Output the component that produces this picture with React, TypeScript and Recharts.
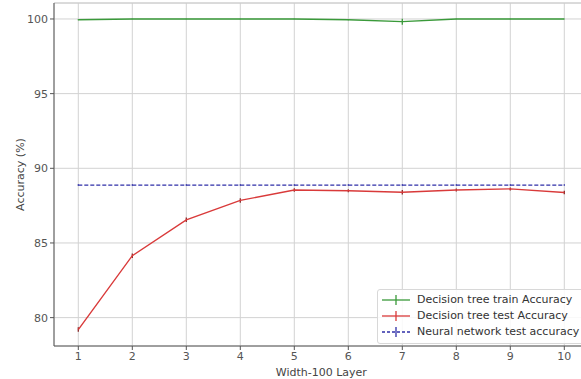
import React from 'react';
import { LineChart, Line, XAxis, YAxis, CartesianGrid, ErrorBar, ReferenceLine } from 'recharts';

const layers = [1, 2, 3, 4, 5, 6, 7, 8, 9, 10];
const trainAcc = [99.95, 100, 100, 100, 100, 99.95, 99.82, 100, 100, 100];
const trainErr = [0.03, 0.02, 0.02, 0.02, 0.02, 0.03, 0.2, 0.02, 0.02, 0.02];
const testAcc = [79.2, 84.15, 86.55, 87.85, 88.55, 88.5, 88.4, 88.55, 88.62, 88.38];
const testErr = [0.15, 0.15, 0.15, 0.15, 0.12, 0.1, 0.15, 0.1, 0.1, 0.12];
const nnAcc = [88.88, 88.88, 88.88, 88.88, 88.88, 88.88, 88.88, 88.88, 88.88, 88.88];
const nnErr = [0.05, 0.05, 0.05, 0.05, 0.05, 0.05, 0.05, 0.05, 0.05, 0.05];
const xTicks = [1, 2, 3, 4, 5, 6, 7, 8, 9, 10];
const yTicks = [80, 85, 90, 95, 100];

const seriesNames = ['Decision tree train Accuracy', 'Decision tree test Accuracy', 'Neural network test accuracy'];
const GREEN = '#3a9a3a';
const RED = '#d93a3a';
const BLUE = '#2f2fa8';

const data = layers.map((x, i) => ({
  x,
  train: trainAcc[i],
  trainErr: trainErr[i],
  test: testAcc[i],
  testErr: testErr[i],
  nn: nnAcc[i],
  nnErr: nnErr[i],
}));

const FONT = '"DejaVu Sans", sans-serif';

const LegendBox = () => {
  const items = [
    { name: seriesNames[0], color: GREEN, dash: false },
    { name: seriesNames[1], color: RED, dash: false },
    { name: seriesNames[2], color: BLUE, dash: true },
  ];
  return (
    <div
      style={{
        position: 'absolute',
        left: 377,
        top: 289,
        border: '1px solid #d8d8d8',
        borderRadius: 3,
        background: 'rgba(255,255,255,0.85)',
        padding: '2px 6px 3px 3px',
        fontFamily: FONT,
        fontSize: 11,
        color: '#333',
        lineHeight: '16px',
        whiteSpace: 'nowrap',
      }}
    >
      {items.map((it) => (
        <div key={it.name} style={{ display: 'flex', alignItems: 'center', height: 16 }}>
          <svg width={30} height={14} style={{ marginRight: 6 }}>
            <line x1={1} y1={7} x2={29} y2={7} stroke={it.color} strokeWidth={1.3} strokeDasharray={it.dash ? '3 2' : undefined} />
            <line x1={15} y1={2} x2={15} y2={12} stroke={it.color} strokeWidth={1.3} />
          </svg>
          <span>{it.name}</span>
        </div>
      ))}
    </div>
  );
};

export default function App() {
  return (
    <div style={{ position: 'absolute', left: 0, top: 0, width: 581, height: 379, overflow: 'hidden', background: '#fff' }}>
      <LineChart width={600} height={379} data={data} margin={{ top: 3, right: 11.4, left: 0, bottom: 0 }}>
        <CartesianGrid stroke="#d2d2d2" strokeWidth={1} />
        <XAxis
          dataKey="x"
          type="number"
          domain={[0.55, 10.45]}
          ticks={xTicks}
          height={33}
          tickSize={4}
          stroke="#555"
          tick={{ fill: '#555', fontSize: 11, fontFamily: FONT }}
          label={{ value: 'Width-100 Layer', position: 'insideBottom', offset: 3, fill: '#444', fontSize: 11, fontFamily: FONT }}
        />
        <YAxis
          type="number"
          domain={[78.1, 101.07]}
          ticks={yTicks}
          width={54}
          tickSize={4}
          stroke="#555"
          tick={{ fill: '#555', fontSize: 11, fontFamily: FONT }}
          label={{ value: 'Accuracy (%)', angle: -90, position: 'center', dx: -7, fill: '#444', fontSize: 11, fontFamily: FONT }}
        />
        <ReferenceLine y={101.07} stroke="#cccccc" />
        <Line dataKey="train" stroke={GREEN} strokeWidth={1.4} dot={false} isAnimationActive={false} name={seriesNames[0]}>
          <ErrorBar dataKey="trainErr" width={0} stroke={GREEN} strokeWidth={1.3} direction="y" />
        </Line>
        <Line dataKey="test" stroke={RED} strokeWidth={1.4} dot={false} isAnimationActive={false} name={seriesNames[1]}>
          <ErrorBar dataKey="testErr" width={0} stroke="#8a2a2a" strokeWidth={1.3} direction="y" />
        </Line>
        <Line dataKey="nn" stroke={BLUE} strokeWidth={1.3} strokeDasharray="4 2" dot={false} isAnimationActive={false} name={seriesNames[2]}>
          <ErrorBar dataKey="nnErr" width={0} stroke={BLUE} strokeWidth={1.3} direction="y" />
        </Line>
      </LineChart>
      <LegendBox />
    </div>
  );
}
